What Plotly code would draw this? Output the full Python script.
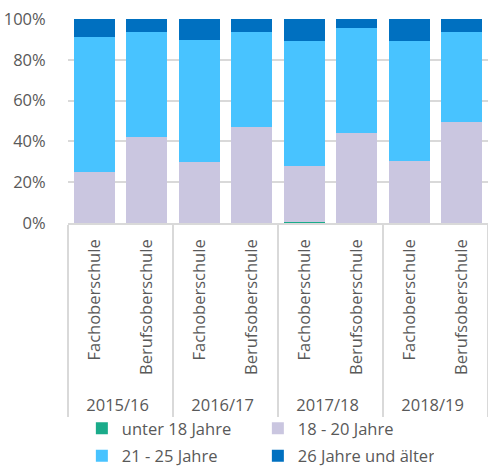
import plotly.graph_objects as go

years = ["2015/16", "2015/16", "2016/17", "2016/17", "2017/18", "2017/18", "2018/19", "2018/19"]
schools = ["Fachoberschule", "Berufsoberschule"] * 4

series_names = ["unter 18 Jahre", "18 - 20 Jahre", "21 - 25 Jahre", "26 Jahre und älter"]
unter_18 = [0.0, 0.0, 0.0, 0.0, 0.7, 0.0, 0.0, 0.0]
j18_20 = [25.2, 42.0, 29.7, 47.1, 27.4, 44.3, 30.4, 49.5]
j21_25 = [66.1, 51.6, 59.8, 46.5, 60.9, 51.1, 58.6, 44.1]
j26_plus = [8.7, 6.4, 10.5, 6.4, 11.0, 4.6, 11.0, 6.4]

colors = ["#1aab8a", "#cac6e0", "#48c3ff", "#0070c0"]
legend_rows = ["legend", "legend", "legend2", "legend2"]
font_family = "Open Sans, Liberation Sans, sans-serif"
text_grey = "#595959"
line_grey = "#d9d9d9"

# leading spaces give the rotated school labels some room above the year row
school_labels = ["\u2002\u00a0" + s for s in schools]

fig = go.Figure()
for name, vals, col, lg in zip(series_names, [unter_18, j18_20, j21_25, j26_plus], colors, legend_rows):
    fig.add_trace(go.Bar(
        x=[years, school_labels], y=vals, name=name, legend=lg,
        marker=dict(color=col, line=dict(width=0)),
    ))

legend_common = dict(
    orientation="h", x=0.033, xanchor="left", yanchor="top",
    entrywidth=131, traceorder="normal", itemwidth=30,
    bgcolor="rgba(0,0,0,0)",
    font=dict(size=16.5, color=text_grey),
)

fig.update_layout(
    width=488, height=469,
    barmode="stack", bargap=0.22,
    margin=dict(l=68, r=0, t=19, b=246, autoexpand=False),
    plot_bgcolor="white", paper_bgcolor="white",
    font=dict(family=font_family, size=16.5, color=text_grey),
    legend=dict(legend_common, y=-0.922),
    legend2=dict(legend_common, y=-1.056),
    xaxis=dict(
        type="multicategory", tickangle=-90,
        showline=True, linecolor=line_grey, linewidth=1.5,
        showdividers=True, dividercolor=line_grey, dividerwidth=1.5,
        ticks="", ticklabelstandoff=8,
        tickfont=dict(size=16.5, color=text_grey),
    ),
    yaxis=dict(
        range=[0, 100], dtick=20, ticksuffix="%",
        showgrid=True, gridcolor=line_grey, gridwidth=1.5,
        zeroline=False, tickfont=dict(size=16.5, color=text_grey),
        ticks="outside", ticklen=18, tickcolor="rgba(0,0,0,0)",
    ),
)

fig.write_html("out.html")
